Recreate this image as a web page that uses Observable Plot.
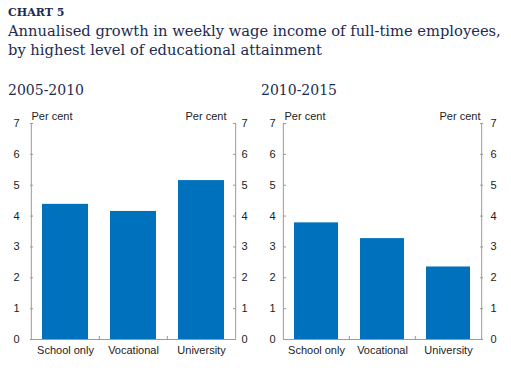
<!DOCTYPE html>
<html>
<head>
<meta charset="utf-8">
<script src="https://cdn.jsdelivr.net/npm/d3@7"></script>
<script src="https://cdn.jsdelivr.net/npm/@observablehq/plot@0.6"></script>
<style>
  body { margin: 0; background: #fff; width: 511px; height: 385px; position: relative; overflow: hidden; }
  .t { position: absolute; white-space: nowrap; font-family: "DejaVu Serif", serif; color: #1c2b52; }
  #kicker { left: 8px; top: 6px; font-size: 11px; font-weight: bold; }
  #title { left: 8px; top: 21px; font-size: 14.7px; line-height: 19px; }
  .ptitle { top: 82px; font-size: 14px; }
  #p1 { position: absolute; left: 0; top: 105px; }
  #p2 { position: absolute; left: 255px; top: 105px; }
</style>
</head>
<body>
<div class="t" id="kicker">CHART 5</div>
<div class="t" id="title">Annualised growth in weekly wage income of full-time employees,<br>by highest level of educational attainment</div>
<div class="t ptitle" style="left:8px">2005-2010</div>
<div class="t ptitle" style="left:261px">2010-2015</div>
<div id="p1"></div>
<div id="p2"></div>
<script>
const categories = ["School only", "Vocational", "University"];
const growth2005_2010 = [4.38, 4.15, 5.15];
const growth2010_2015 = [3.78, 3.27, 2.35];
const yTicks = [0, 1, 2, 3, 4, 5, 6, 7];
const unitLabel = "Per cent";

function panel(values, ml, mr, width, leftPad, rightPad, unitDxRight) {
  const data = categories.map((c, i) => ({cat: c, v: values[i]}));
  const step = (width - ml - mr) / categories.length;
  const axisStroke = "#9b9b9b";
  return Plot.plot({
    width, height: 259,
    marginLeft: ml, marginRight: mr, marginTop: 18, marginBottom: 25,
    style: {fontFamily: "Liberation Sans, Arial, sans-serif", fontSize: "11px", color: "#222", background: "#fff"},
    x: {domain: categories, paddingInner: 0.33, paddingOuter: 0.165, label: null},
    y: {domain: [0, 7], label: null},
    marks: [
      Plot.barY(data, {x: "cat", y: "v", fill: "#0071bc"}),
      Plot.ruleY([0], {stroke: axisStroke}),
      Plot.ruleX(categories.slice(1), {x: d => d, dx: -step / 2, y1: 0, y2: 0.1, stroke: axisStroke}),
      Plot.ruleX([categories[0]], {x: d => d, dx: -step / 2, y1: 0, y2: 7, stroke: axisStroke}),
      Plot.ruleX([categories[categories.length - 1]], {x: d => d, dx: step / 2, y1: 0, y2: 7, stroke: axisStroke}),
      Plot.axisX({tickSize: 0, tickPadding: 7, fill: "#222", fontSize: 11}),
      Plot.axisY({anchor: "left", ticks: yTicks, tickFormat: "d", tickSize: -3, tickPadding: leftPad, stroke: axisStroke, fill: "#222", fontSize: 11, label: null}),
      Plot.axisY({anchor: "right", ticks: yTicks, tickFormat: "d", tickSize: -3, tickPadding: rightPad, stroke: axisStroke, fill: "#222", fontSize: 11, label: null}),
      Plot.text([unitLabel], {frameAnchor: "top-left", dx: 1, dy: -11, fill: "#222", fontSize: 11}),
      Plot.text([unitLabel], {frameAnchor: "top-right", dx: unitDxRight, dy: -11, fill: "#222", fontSize: 11})
    ]
  });
}
document.getElementById("p1").append(panel(growth2005_2010, 30, 20, 255, 14, 9, -9));
document.getElementById("p2").append(panel(growth2010_2015, 28, 29, 256, 11, 11, -2));
</script>
</body>
</html>
